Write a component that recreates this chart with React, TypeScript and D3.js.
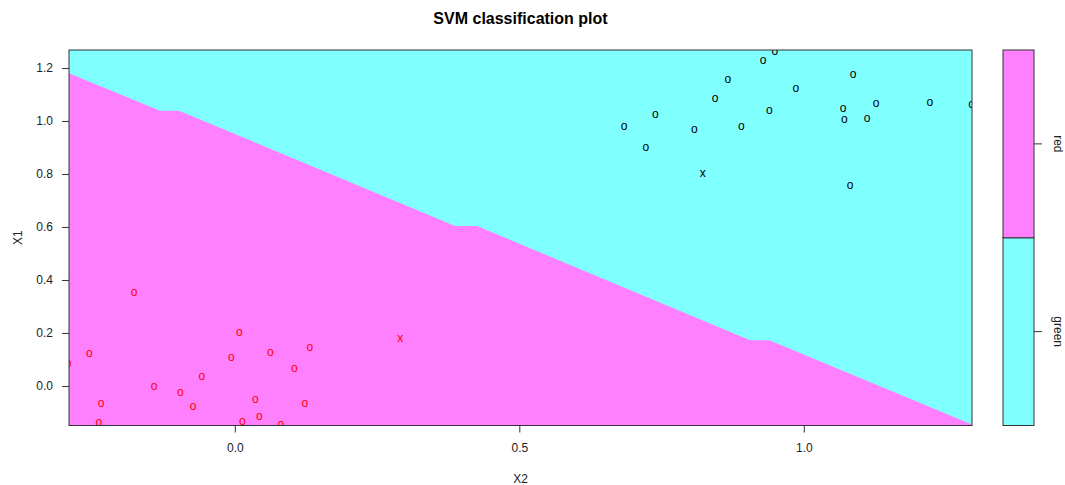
import React from "react";
import * as d3 from "d3";

// Class "green" observations (X2, X1) – drawn in black
const greenX2 = [0.948, 0.9274, 0.8654, 1.0856, 0.9849, 0.8431, 0.7381, 0.9385, 1.068, 1.126, 1.2204, 1.2942, 0.6831, 0.8067, 0.8893, 1.0703, 1.1102, 0.7213, 1.0803, 0.8214];
const greenX1 = [1.2634, 1.2272, 1.1577, 1.1766, 1.1215, 1.0838, 1.0257, 1.0385, 1.046, 1.066, 1.0709, 1.0611, 0.9804, 0.9668, 0.9781, 1.0057, 1.0083, 0.9, 0.7566, 0.803];
const greenSV = [false, false, false, false, false, false, false, false, false, false, false, false, false, false, false, false, false, false, false, true];

// Class "red" observations (X2, X1)
const redX2 = [-0.294, -0.178, 0.007, -0.2566, 0.29, -0.007, 0.0615, 0.1308, 0.1037, -0.059, -0.1429, -0.0967, -0.236, -0.0743, 0.0351, 0.122, -0.24, 0.0123, 0.0422, 0.0798];
const redX1 = [0.0849, 0.3517, 0.2019, 0.1238, 0.1781, 0.1064, 0.1275, 0.1453, 0.0672, 0.037, -0.0019, -0.0234, -0.066, -0.0762, -0.0498, -0.0649, -0.1389, -0.134, -0.1151, -0.1453];
const redSV = [false, false, false, false, true, false, false, false, false, false, false, false, false, false, false, false, false, false, false, false];

// Decision boundary traced on the prediction grid (X2, X1)
const boundaryX2 = [-0.2923, -0.1323, -0.0989, 0.3861, 0.4248, 0.9046, 0.9385, 1.2947];
const boundaryX1 = [1.1819, 1.0408, 1.0408, 0.6057, 0.6057, 0.1743, 0.1743, -0.1434];

const xTicks = [0.0, 0.5, 1.0];
const yTicks = [0.0, 0.2, 0.4, 0.6, 0.8, 1.0, 1.2];
const classLabels = ["green", "red"];

const X_DOMAIN: [number, number] = [-0.2923, 1.2947];
const Y_DOMAIN: [number, number] = [-0.1472, 1.2698];

const CYAN = "#80FFFF";
const MAGENTA = "#FF80FF";
const FONT = "'Liberation Sans', Arial, sans-serif";

export default function App() {
  const W = 1065, H = 485;
  const left = 69, right = 972, top = 50, bottom = 425.5;
  const x = d3.scaleLinear().domain(X_DOMAIN).range([left, right]);
  const y = d3.scaleLinear().domain(Y_DOMAIN).range([bottom, top]);

  const pts: [number, number][] = boundaryX2.map((v, i) => [x(v), y(boundaryX1[i])]);
  const redArea = [...pts, [x(X_DOMAIN[1]), y(Y_DOMAIN[0])], [x(X_DOMAIN[0]), y(Y_DOMAIN[0])]] as [number, number][];
  const poly = d3.line()(redArea) + "Z";

  // legend
  const lx0 = 1003, lx1 = 1034;
  const ly = d3.scaleLinear().domain([0, 2]).range([bottom, top]);
  const legendColors = [CYAN, MAGENTA];

  const sym = (sv: boolean) => (sv ? "x" : "o");

  return (
    <svg width={W} height={H} style={{ position: "absolute", left: 0, top: 0, background: "#fff" }} fontFamily={FONT}>
      <defs>
        <clipPath id="plotClip">
          <rect x={left} y={top} width={right - left} height={bottom - top} />
        </clipPath>
      </defs>
      <text x={(left + right) / 2} y={18.5} textAnchor="middle" dominantBaseline="central" fontSize={16} fontWeight="bold" fill="#000">
        SVM classification plot
      </text>
      <g clipPath="url(#plotClip)">
        <rect x={left} y={top} width={right - left} height={bottom - top} fill={CYAN} />
        <path d={poly} fill={MAGENTA} />
        {greenX2.map((v, i) => (
          <text key={"g" + i} x={x(v)} y={y(greenX1[i])} textAnchor="middle" dominantBaseline="middle" fontSize={12} fill="#000">
            {sym(greenSV[i])}
          </text>
        ))}
        {redX2.map((v, i) => (
          <text key={"r" + i} x={x(v)} y={y(redX1[i])} textAnchor="middle" dominantBaseline="middle" fontSize={12} fill="#ff0000">
            {sym(redSV[i])}
          </text>
        ))}
      </g>
      <rect x={left} y={top} width={right - left} height={bottom - top} fill="none" stroke="#333" strokeWidth={1} />
      {xTicks.map((t) => (
        <g key={"xt" + t}>
          <line x1={x(t)} x2={x(t)} y1={bottom} y2={bottom + 7} stroke="#333" />
          <text x={x(t)} y={448} textAnchor="middle" dominantBaseline="central" fontSize={12} fill="#222">
            {t.toFixed(1)}
          </text>
        </g>
      ))}
      {yTicks.map((t) => (
        <g key={"yt" + t}>
          <line x1={left - 7} x2={left} y1={y(t)} y2={y(t)} stroke="#333" />
          <text x={53} y={y(t)} textAnchor="end" dominantBaseline="central" fontSize={12} fill="#222">
            {t.toFixed(1)}
          </text>
        </g>
      ))}
      <text x={(left + right) / 2} y={479} textAnchor="middle" dominantBaseline="central" fontSize={12} fill="#222">
        X2
      </text>
      <text transform={`translate(18,${(top + bottom) / 2}) rotate(-90)`} textAnchor="middle" dominantBaseline="central" fontSize={12} fill="#222">
        X1
      </text>
      {/* legend bar */}
      {classLabels.map((c, i) => (
        <g key={c}>
          <rect x={lx0} y={ly(i + 1)} width={lx1 - lx0} height={ly(i) - ly(i + 1)} fill={legendColors[i]} stroke="#333" />
          <line x1={lx1} x2={lx1 + 8} y1={ly(i + 0.5)} y2={ly(i + 0.5)} stroke="#333" />
          <text transform={`translate(1058,${ly(i + 0.5)}) rotate(90)`} textAnchor="middle" dominantBaseline="central" fontSize={12} fill="#222">
            {c}
          </text>
        </g>
      ))}
    </svg>
  );
}
